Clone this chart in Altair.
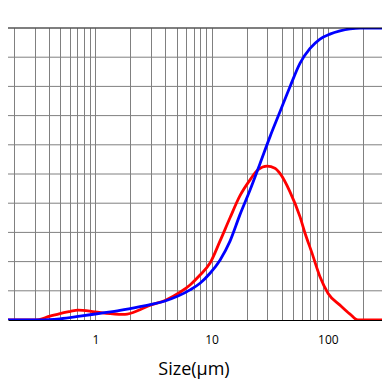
import altair as alt
import pandas as pd

# Frequency curve (red), % of plot height scale
red_size = [0.1775, 0.303, 0.408, 0.497, 0.606, 0.71, 0.994, 1.34, 1.80, 2.42, 2.93, 3.98, 5.35, 6.52, 7.95, 9.69,
            11.8, 14.4, 17.5, 21.4, 25.1, 30.0, 35.0, 38.7, 47.2, 57.5, 63.5, 73.0, 85.5, 100.4, 127, 155, 181, 342]
red_val = [0, 0, 1.3, 2.2, 2.9, 3.4, 2.8, 2.2, 1.9, 3.5, 5.0, 6.7, 9.5, 12.0, 15.4, 19.5,
           27.0, 35.0, 42.5, 48.0, 51.5, 52.7, 52.0, 50.2, 43.9, 35.4, 29.8, 22.9, 14.8, 9.1, 5.1, 2.0, 0, 0]

# Cumulative curve (blue), %
blue_size = [0.1775, 0.334, 0.497, 0.739, 1.10, 1.63, 2.42, 3.98, 6.52, 7.95, 9.69, 11.8, 14.4, 17.5, 21.4,
             26.1, 31.8, 38.7, 47.2, 57.5, 70.2, 85.5, 104, 127, 155, 189, 342]
blue_val = [0, 0, 0.4, 1.3, 2.3, 3.3, 4.6, 6.5, 10.3, 12.6, 16.0, 20.5, 27.0, 36.0, 44.5,
            53.6, 62.8, 71.3, 79.9, 87.9, 93.0, 96.2, 97.9, 99.0, 99.7, 100, 100]

grid_x = [0.2, 0.3, 0.4, 0.5, 0.6, 0.7, 0.8, 0.9,
          1, 2, 3, 4, 5, 6, 7, 8, 9,
          10, 20, 30, 40, 50, 60, 70, 80, 90,
          100, 200]
label_x = [1, 10, 100]
grid_y = [10, 20, 30, 40, 50, 60, 70, 80, 90]

df_red = pd.DataFrame({"size": red_size, "val": red_val, "s": "red"})
df_blue = pd.DataFrame({"size": blue_size, "val": blue_val, "s": "blue"})
df = pd.concat([df_red, df_blue])

FONT = "Open Sans"

xscale = alt.Scale(type="log", domain=[0.1775, 291.8], nice=False)
yscale = alt.Scale(domain=[0, 100], nice=False)

xaxis = alt.Axis(
    values=grid_x,
    labelExpr="(datum.value == 1 || datum.value == 10 || datum.value == 100) ? datum.value + '' : ''",
    grid=True, gridColor="#808080", gridWidth=1, gridOpacity=1,
    ticks=False, domainColor="#000000", domainWidth=1.2,
    labelFont=FONT, labelFontSize=12, labelColor="#000000", labelPadding=14,
    labelOverlap=False, labelFlush=False,
    title="Size(μm)", titleFont=FONT, titleFontSize=18, titleFontWeight="normal",
    titleColor="#000000", titleX=185.5, titleY=54, titleBaseline="alphabetic", titleAlign="center",
)
yaxis = alt.Axis(grid=False, labels=False, ticks=False, domain=False, title=None)

hgrid = alt.Chart(pd.DataFrame({"g": grid_y})).mark_rule(color="#808080", strokeWidth=1).encode(
    y=alt.Y("g:Q", scale=yscale, axis=yaxis)
)
base = alt.Chart(df).encode(
    x=alt.X("size:Q", scale=xscale, axis=xaxis),
    y=alt.Y("val:Q", scale=yscale, axis=yaxis),
)
red = base.mark_line(color="#ff0000", strokeWidth=2.8, interpolate="monotone", clip=True).transform_filter(
    alt.datum.s == "red")
blue = base.mark_line(color="#0000ff", strokeWidth=2.8, interpolate="monotone", clip=True).transform_filter(
    alt.datum.s == "blue")
top = alt.Chart(pd.DataFrame({"v": [100]})).mark_rule(color="#000000", strokeWidth=1.2).encode(
    y=alt.Y("v:Q", scale=yscale, axis=yaxis)
)

chart = alt.layer(hgrid, red, blue, top).properties(
    width=374, height=292,
    autosize=alt.AutoSizeParams(type="none"),
    padding={"left": 0, "top": 20, "right": 0, "bottom": 60},
).configure_view(stroke=None)

chart.save("out.html", embed_options={"renderer": "svg", "actions": False})
